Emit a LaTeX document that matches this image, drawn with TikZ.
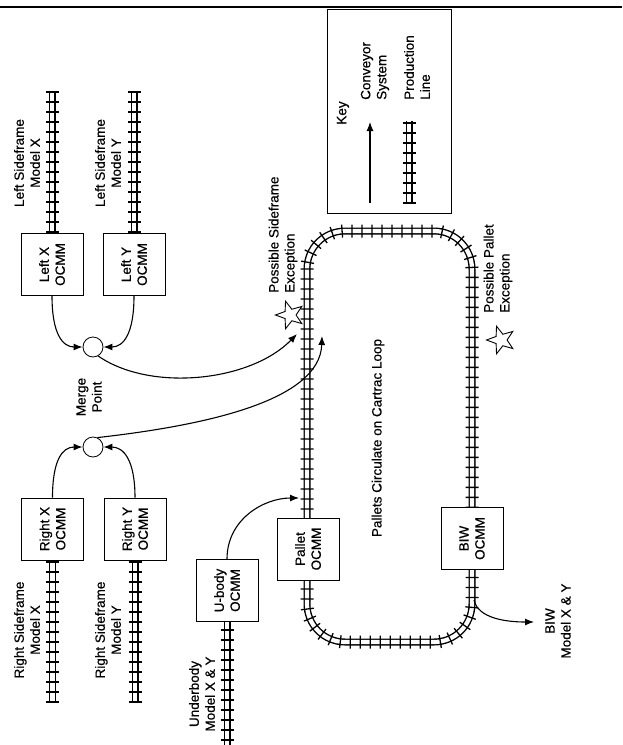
\documentclass[tikz,border=0pt]{standalone}
\usepackage{fontspec}
\setmainfont{Liberation Sans}[FakeBold=0.5]
\usetikzlibrary{arrows.meta,shapes.geometric,decorations.pathreplacing,backgrounds}
\begin{document}
\begin{tikzpicture}[x=1pt,y=-1pt,
  lbl/.style={rotate=90, inner sep=0, align=center, font=\fontsize{13.5}{16}\selectfont},
  lbll/.style={rotate=90, inner sep=0, align=left, anchor=west, font=\fontsize{13.5}{16}\selectfont},
  ocmm/.style={lbl, draw, fill=white, line width=0.8pt, minimum width=62pt, minimum height=62pt},
  merge/.style={circle, draw, fill=white, line width=0.8pt, minimum size=20pt, inner sep=0},
  exstar/.style={star, star points=5, star point ratio=2.4, draw, fill=white, line width=0.9pt, minimum size=29pt, inner sep=0, rotate=90},
  conv/.style={-{Latex[length=9pt,width=7pt]}, line width=1.1pt},
  railway/.style={preaction={draw=black, line width=7pt}, draw=white, line width=4.2pt,
    postaction={draw=black, line width=1.3pt, decorate, decoration={ticks, segment length=10pt, amplitude=6.5pt}}}
]
\useasboundingbox (0,0) rectangle (622,745);

% top rule
\coordinate (tl) at (0,7);
\coordinate (tr) at (622,7);
\draw[line width=2.5pt] (tl) -- (tr);

% key
\node[draw, line width=0.8pt, minimum width=124pt, minimum height=204pt, inner sep=0] (keybox) at (389,111) {};
\node[lbl] (keyt) at (343,113) {Key};
\coordinate (ka1) at (370,203);
\coordinate (ka2) at (370,122);
\draw[conv] (ka1) -- (ka2);
\node[lbll] (convt) at (375,100) {Conveyor\\System};
\coordinate (kp1) at (409,203);
\coordinate (kp2) at (409,121);
\node[lbll] (prodt) at (417,100) {Production\\Line};

% boxes
\node[ocmm] (lx) at (52,264.5) {Left X\\OCMM};
\node[ocmm] (ly) at (134,264.5) {Left Y\\OCMM};
\node[ocmm] (rx) at (52.5,529) {Right X\\OCMM};
\node[ocmm] (ry) at (135,529) {Right Y\\OCMM};
\node[ocmm] (ub) at (227,590.5) {U-body\\OCMM};
\node[ocmm] (pal) at (308,549) {Pallet\\OCMM};
\node[ocmm] (biw) at (472,538.5) {BIW\\OCMM};

% merge points
\node[merge] (m1) at (93,347) {};
\node[merge] (m2) at (93,447) {};
\node[lbl] (mp) at (89,397) {Merge\\Point};

% stars
\node[exstar] (st1) at (290,315) {};
\node[exstar] (st2) at (501,340) {};
\node[lbll] (st1t) at (283,293) {Possible Sideframe\\Exception};
\node[lbll] (st2t) at (498,313) {Possible Pallet\\Exception};

% labels
\node[lbl] (lsx) at (27,163) {Left Sideframe\\Model X};
\node[lbl] (lsy) at (108,163) {Left Sideframe\\Model Y};
\node[lbl] (rsx) at (27,630) {Right Sideframe\\Model X};
\node[lbl] (rsy) at (108,630) {Right Sideframe\\Model Y};
\node[lbl] (ubt) at (202,694) {Underbody\\Model X \& Y};
\node[lbl] (biwt) at (558,621) {BIW\\Model X \& Y};
\node[lbl] (loopt) at (378,438) {Pallets Circulate on Cartrac Loop};

% free ends
\coordinate (lxe) at (52,92);
\coordinate (lye) at (134,92);
\coordinate (rxe) at (52.5,702);
\coordinate (rye) at (135,702);
\coordinate (ube) at (227,750);
\coordinate (sfx) at (297,334);
\coordinate (sfy) at (322,336);
\coordinate (uin) at (299,498);
\coordinate (bout0) at (474,600);
\coordinate (bout) at (534,622);

% conveyors
\draw[conv] (lx.west) .. controls +(0,38) and +(-20,0) .. (m1.west);
\draw[conv] (ly.west) .. controls +(0,38) and +(20,0) .. (m1.east);
\draw[conv] (rx.east) .. controls +(0,-38) and +(-20,0) .. (m2.west);
\draw[conv] (ry.east) .. controls +(0,-38) and +(20,0) .. (m2.east);
\draw[conv] (m1.-60) .. controls (150,392) and (250,382) .. (sfx);
\draw[conv] (m2.65) .. controls (200,426) and (320,402) .. (sfy);
\draw[conv] (ub.east) .. controls +(0,-40) and +(-35,0) .. (uin);
\draw[conv] (bout0) .. controls (478,618) and (505,622) .. (bout);

% production lines
\begin{scope}[on background layer]
\draw[railway] (lxe) -- (lx.east);
\draw[railway] (lye) -- (ly.east);
\draw[railway] (rxe) -- (rx.west);
\draw[railway] (rye) -- (ry.west);
\draw[railway] (ube) -- (ub.west);
\draw[railway] (kp1) -- (kp2);
\draw[railway, rounded corners=38pt] (307,231) rectangle (472,642);
\end{scope}
\end{tikzpicture}
\end{document}
